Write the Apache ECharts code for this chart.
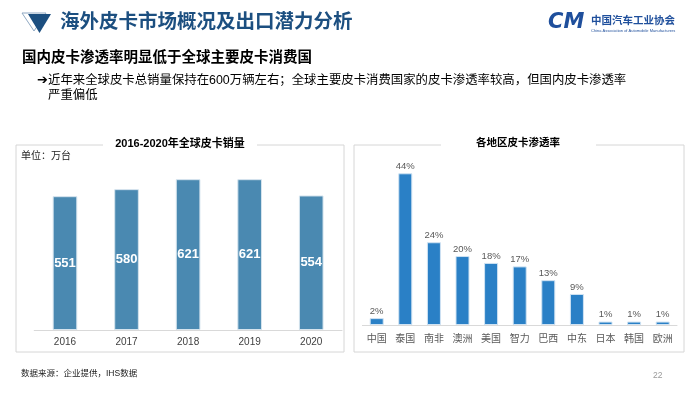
<!DOCTYPE html>
<html><head><meta charset="utf-8">
<script src="https://cdn.jsdelivr.net/npm/echarts@6/dist/echarts.min.js"></script>
<style>html,body{margin:0;padding:0;background:#fff}#c{width:700px;height:393px}</style>
</head><body><div id="c"></div>
<script>
var years = ['2016', '2017', '2018', '2019', '2020'];
var sales = [551, 580, 621, 621, 554];
var regions = ['中国', '泰国', '南非', '澳洲', '美国', '智力', '巴西', '中东', '日本', '韩国', '欧洲'];
var rates = [2, 44, 24, 20, 18, 17, 13, 9, 1, 1, 1];

var pageTitle = '海外皮卡市场概况及出口潜力分析';
var subTitle = '国内皮卡渗透率明显低于全球主要皮卡消费国';
var bullet1 = '近年来全球皮卡总销量保持在600万辆左右；全球主要皮卡消费国家的皮卡渗透率较高，但国内皮卡渗透率';
var bullet2 = '严重偏低';
var leftTitle = '2016-2020年全球皮卡销量';
var rightTitle = '各地区皮卡渗透率';
var unitText = '单位：万台';
var sourceText = '数据来源：企业提供，IHS数据';
var pageNo = '22';

var FONT = '"Liberation Sans", "Noto Sans CJK SC", sans-serif';
var chart = echarts.init(document.getElementById('c'), null, {renderer: 'canvas'});

function txt(x, y, s, size, color, opts) {
  opts = opts || {};
  return {
    type: 'text', x: x, y: y, z: 10,
    style: {
      text: s, fontSize: size, fill: color, fontFamily: opts.family || FONT,
      fontWeight: opts.weight || 'normal', fontStyle: opts.style || 'normal',
      textAlign: opts.align || 'left', textVerticalAlign: 'middle', verticalAlign: 'middle'
    }
  };
}
var boxLine = {stroke: '#d6d6d6', lineWidth: 1, fill: null};

chart.setOption({
  animation: false,
  textStyle: {fontFamily: FONT},
  grid: [
    {left: 34.2, right: 358, top: 160, bottom: 63},
    {left: 362.4, right: 23, top: 152.6, bottom: 68}
  ],
  xAxis: [
    {gridIndex: 0, type: 'category', data: years,
     axisLine: {lineStyle: {color: '#d9d9d9'}}, axisTick: {show: false},
     axisLabel: {color: '#404040', fontSize: 10, margin: 7}},
    {gridIndex: 1, type: 'category', data: regions,
     axisLine: {lineStyle: {color: '#d9d9d9'}}, axisTick: {show: false},
     axisLabel: {color: '#595959', fontSize: 10, margin: 9}}
  ],
  yAxis: [
    {gridIndex: 0, type: 'value', min: 0, max: 700, show: false, splitLine: {show: false}},
    {gridIndex: 1, type: 'value', min: 0, max: 50, show: false, splitLine: {show: false}}
  ],
  series: [
    {type: 'bar', xAxisIndex: 0, yAxisIndex: 0, data: sales, barWidth: '40%',
     itemStyle: {color: '#4a89b1', borderColor: '#d5e4ee', borderWidth: 1},
     label: {show: true, position: 'inside', color: '#fff', fontSize: 13, fontWeight: 'bold'}},
    {type: 'bar', xAxisIndex: 1, yAxisIndex: 1, data: rates, barWidth: '49%',
     itemStyle: {color: '#2a80c6', borderColor: '#d0e3f3', borderWidth: 1},
     label: {show: true, position: 'top', distance: 2, color: '#595959', fontSize: 9.5,
       formatter: function (p) { return p.value + '%'; }}}
  ],
  graphic: [
    {type: 'polygon', shape: {points: [[22, 13], [46, 13], [34, 31]]},
     style: {fill: '#fff', stroke: '#8ea7c2', lineWidth: 1}},
    {type: 'polygon', shape: {points: [[28, 14], [51, 14], [39.5, 33]]},
     style: {fill: '#1c4f80'}},
    txt(60, 23, pageTitle, 19.5, '#1c4f80', {weight: 'bold'}),
    txt(548, 23, 'CM', 21, '#1f4f9c', {weight: 'bold', style: 'italic', family: '"DejaVu Sans", sans-serif'}),
    txt(591, 21, '中国汽车工业协会', 10.5, '#1f4f9c', {weight: 'bold'}),
    txt(591, 31, 'China Association of Automobile Manufacturers', 4, '#1f4f9c'),
    txt(22, 58, subTitle, 14.5, '#000', {weight: 'bold'}),
    txt(37, 81, '➔', 13, '#000', {weight: 'bold', family: '"DejaVu Sans", sans-serif'}),
    txt(48, 81, bullet1, 12.4, '#000'),
    txt(48, 96, bullet2, 12.4, '#000'),
    {type: 'polyline', shape: {points: [[103, 145], [16, 145], [16, 352], [344, 352], [344, 145], [257, 145]]}, style: boxLine},
    txt(180, 144, leftTitle, 11, '#000', {weight: 'bold', align: 'center'}),
    txt(21, 156, unitText, 10, '#222'),
    {type: 'polyline', shape: {points: [[441, 145], [354, 145], [354, 352], [684, 352], [684, 145], [596, 145]]}, style: boxLine},
    txt(518, 143, rightTitle, 10.5, '#000', {weight: 'bold', align: 'center'}),
    txt(21, 374, sourceText, 8.5, '#222'),
    txt(653, 376, pageNo, 8.5, '#9a9a9a')
  ]
});
</script></body></html>
